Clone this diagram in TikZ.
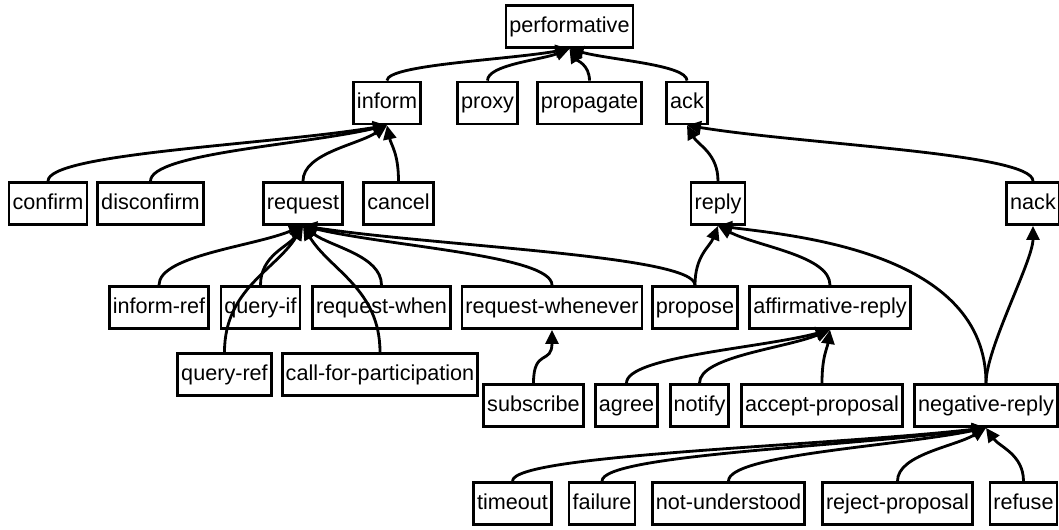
\documentclass[tikz,border=0pt]{standalone}
\usepackage{fontspec}
\setmainfont{Liberation Sans}
\usetikzlibrary{positioning, arrows.meta, calc}

\begin{document}
\begin{tikzpicture}[on grid, >={Triangle[length=0.28cm, width=0.26cm]},
    cls/.style={draw, rectangle, line width=1.6pt, minimum height=0.84cm, inner xsep=2pt, text height=9pt, text depth=2.6pt, font=\fontsize{12.3}{14}\selectfont},
    isa/.style={->, line width=1.6pt, to path={.. controls ($(\tikztostart)!0.5!(\tikztostart|-\tikztotarget)$) and ($(\tikztotarget)!0.35!(\tikztostart)$) .. (\tikztotarget)}},
    vert/.style={to path={.. controls +(0,0.7) and +(0,-0.7) .. (\tikztotarget)}},
    wide/.style={to path={.. controls +(0,2.6) and +(1.6,-0.2) .. (\tikztotarget)}}]
    % Nodes
    % root
    \node[cls] (performative) {performative};
    \useasboundingbox ($(performative.center)+(-11.39,0.53)$) rectangle ++(21.18,-10.6);

    % level 1
    \node[cls] (inform) [below left=1.53cm and 3.65cm of performative] {inform};
    \node[cls] (proxy) [right=2.01cm of inform] {proxy};
    \node[cls] (propagate) [right=2.04cm of proxy] {propagate};
    \node[cls] (ack) [right=1.95cm of propagate] {ack};

    % level 2
    \node[cls] (confirm) [below left=2.01cm and 6.78cm of inform] {confirm};
    \node[cls] (disconfirm) [right=2.05cm of confirm] {disconfirm};
    \node[cls] (request) [right=3.05cm of disconfirm] {request};
    \node[cls] (cancel) [right=1.91cm of request] {cancel};
    \node[cls] (reply) [right=6.39cm of cancel] {reply};
    \node[cls] (nack) [right=6.30cm of reply] {nack};

    % level 3
    \node[cls] (informref) [below left=2.08cm and 2.88cm of request] {inform-ref};
    \node[cls] (queryif) [right=2.03cm of informref] {query-if};
    \node[cls] (requestwhen) [right=2.42cm of queryif] {request-when};
    \node[cls] (requestwhenever) [right=3.41cm of requestwhen] {request-whenever};
    \node[cls] (propose) [right=2.86cm of requestwhenever] {propose};
    \node[cls] (affirmative) [right=2.70cm of propose] {affirmative-reply};

    % level 4
    \node[cls] (queryref) [below left=1.34cm and 0.72cm of queryif] {query-ref};
    \node[cls] (cfp) [right=3.11cm of queryref] {call-for-participation};
    \node[cls] (subscribe) [below left=1.96cm and 0.37cm of requestwhenever] {subscribe};
    \node[cls] (agree) [right=1.86cm of subscribe] {agree};
    \node[cls] (notify) [right=1.46cm of agree] {notify};
    \node[cls] (acceptprop) [right=2.45cm of notify] {accept-proposal};
    \node[cls] (negative) [right=3.28cm of acceptprop] {negative-reply};

    % level 5
    \node[cls] (timeout) [below left=1.96cm and 0.42cm of subscribe] {timeout};
    \node[cls] (failure) [right=1.79cm of timeout] {failure};
    \node[cls] (notunderstood) [right=2.53cm of failure] {not-understood};
    \node[cls] (rejectprop) [right=3.38cm of notunderstood] {reject-proposal};
    \node[cls] (refuse) [right=2.52cm of rejectprop] {refuse};

    % Subclass links
    \path[isa]
        % into performative
        (inform.north) edge (performative.south)
        (proxy.north) edge (performative.south)
        (propagate.north) edge (performative.south)
        (ack.north) edge (performative.south)

        % into inform and ack
        (confirm.north) edge (inform.south)
        (disconfirm.north) edge (inform.south)
        (request.north) edge (inform.south)
        (cancel.north) edge (inform.south)
        (reply.north) edge (ack.south)
        (nack.north) edge (ack.south)

        % into request
        (informref.north) edge (request.south)
        (queryif.north) edge (request.south)
        (queryref.north) edge (request.south)
        (requestwhen.north) edge (request.south)
        (cfp.north) edge (request.south)
        (requestwhenever.north) edge (request.south)
        (propose.north) edge (request.south)
        (subscribe.north) edge [vert] (requestwhenever.south)

        % into reply
        (propose.north) edge (reply.south)
        (affirmative.north) edge (reply.south)
        (negative.north) edge [wide] (reply.south)
        (negative.north) edge [vert] (nack.south)
        (agree.north) edge (affirmative.south)
        (notify.north) edge (affirmative.south)
        (acceptprop.north) edge (affirmative.south)

        % into negative-reply
        (timeout.north) edge (negative.south)
        (failure.north) edge (negative.south)
        (notunderstood.north) edge (negative.south)
        (rejectprop.north) edge (negative.south)
        (refuse.north) edge (negative.south);

\end{tikzpicture}
\end{document}
